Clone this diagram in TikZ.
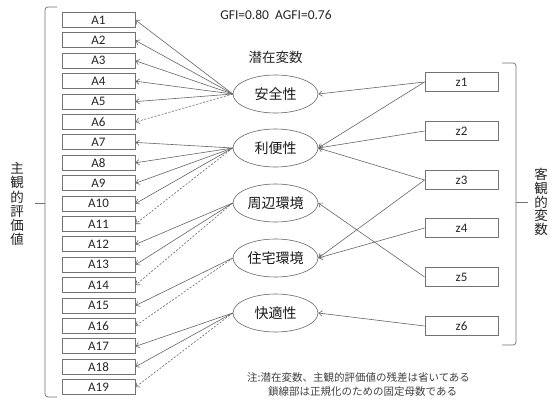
\documentclass[tikz,border=0pt]{standalone}
\usepackage{fontspec}
\setmainfont{Carlito}
\newfontfamily\jp{Noto Sans CJK JP}
\usetikzlibrary{arrows.meta,shapes.geometric}
\begin{document}
\begin{tikzpicture}[x=1pt,y=-1pt,
  obs/.style={draw=black!55, line width=0.9pt, minimum width=73pt, minimum height=15pt,
    inner sep=0pt, font=\fontsize{13}{13}\selectfont, text=black!85},
  zbox/.style={obs, minimum height=19pt},
  lat/.style={ellipse, draw=black!60, line width=0.6pt, minimum width=85pt, minimum height=38pt,
    inner sep=0pt, font=\jp\fontsize{14}{14}\selectfont, text=black!90},
  conn/.style={draw=black!60, line width=0.6pt, -{Straight Barb[length=3.5pt,width=5.5pt]}},
  fixed/.style={conn, dash pattern=on 2pt off 1.6pt},
  brk/.style={draw=black!55, line width=0.7pt, rounded corners=3pt},
  lbl/.style={font=\jp\fontsize{13.5}{13.5}\selectfont, text=black!85},
  note/.style={font=\jp\fontsize{10.5}{10.5}\selectfont, text=black!75, anchor=west, inner sep=0pt}]
\useasboundingbox[fill=white] (0,0) rectangle (550,399);

% observed subjective items
\foreach \i in {1,...,19}
  \node[obs] (A\i) at (98.5,{20+(\i-1)*20.4}) {A\i};

% objective variables
\foreach \i/\y in {1/82,2/131,3/180,4/228,5/277,6/326}
  \node[zbox] (z\i) at (461.5,\y) {z\i};

% latent variables
\node[lat] (L1) at (275.5,94)  {安全性};
\node[lat] (L2) at (275.5,148) {利便性};
\node[lat] (L3) at (275.5,203) {周辺環境};
\node[lat] (L4) at (275.5,258) {住宅環境};
\node[lat] (L5) at (275.5,313) {快適性};

% texts
\node[font=\fontsize{13.5}{13.5}\selectfont, text=black!85] (fit) at (276,15) {GFI=0.80\ \ AGFI=0.76};
\node[lbl] (latlab) at (275.5,57) {潜在変数};
\node[lbl, align=center, font=\jp\fontsize{13.5}{14.2}\selectfont] (leftlab) at (17,204) {主\\観\\的\\評\\価\\値};
\node[lbl, align=center, font=\jp\fontsize{13.5}{13.6}\selectfont] (rightlab) at (541,202) {客\\観\\的\\変\\数};
\node[note] (note1) at (247,377) {注:潜在変数、主観的評価値の残差は省いてある};
\node[note] (note2) at (268,392) {鎖線部は正規化のための固定母数である};

% loadings
\foreach \i in {1,...,5} \draw[conn] (L1.west) -- (A\i.east);
\draw[fixed] (L1.west) -- (A6.east);
\foreach \i in {7,...,10} \draw[conn] (L2.west) -- (A\i.east);
\draw[fixed] (L2.west) -- (A11.east);
\foreach \i in {12,13} \draw[conn] (L3.west) -- (A\i.east);
\draw[fixed] (L3.west) -- (A14.east);
\draw[conn] (L4.west) -- (A15.east);
\draw[fixed] (L4.west) -- (A16.east);
\foreach \i in {17,18} \draw[conn] (L5.west) -- (A\i.east);
\draw[fixed] (L5.west) -- (A19.east);

% objective effects
\draw[conn] (z1.west) -- (L1.east);
\draw[conn] (z1.west) -- (L2.east);
\draw[conn] (z2.west) -- (L2.east);
\draw[conn] (z3.west) -- (L2.east);
\draw[conn] (z3.west) -- (L4.east);
\draw[conn] (z4.west) -- (L4.east);
\draw[conn] (z5.west) -- (L3.east);
\draw[conn] (z6.west) -- (L5.east);

% brackets
\coordinate (lbt) at (57,7);
\coordinate (lbb) at (57,397);
\coordinate (lbm) at (35,203);
\draw[brk] (lbt) -- (45,7) -- (45,397) -- (lbb);
\draw[brk] (45,203) -- (lbm);
\coordinate (rbt) at (502,63);
\coordinate (rbb) at (502,345);
\coordinate (rbm) at (528,202);
\draw[brk] (rbt) -- (516,63) -- (516,345) -- (rbb);
\draw[brk] (516,202) -- (rbm);
\end{tikzpicture}
\end{document}
